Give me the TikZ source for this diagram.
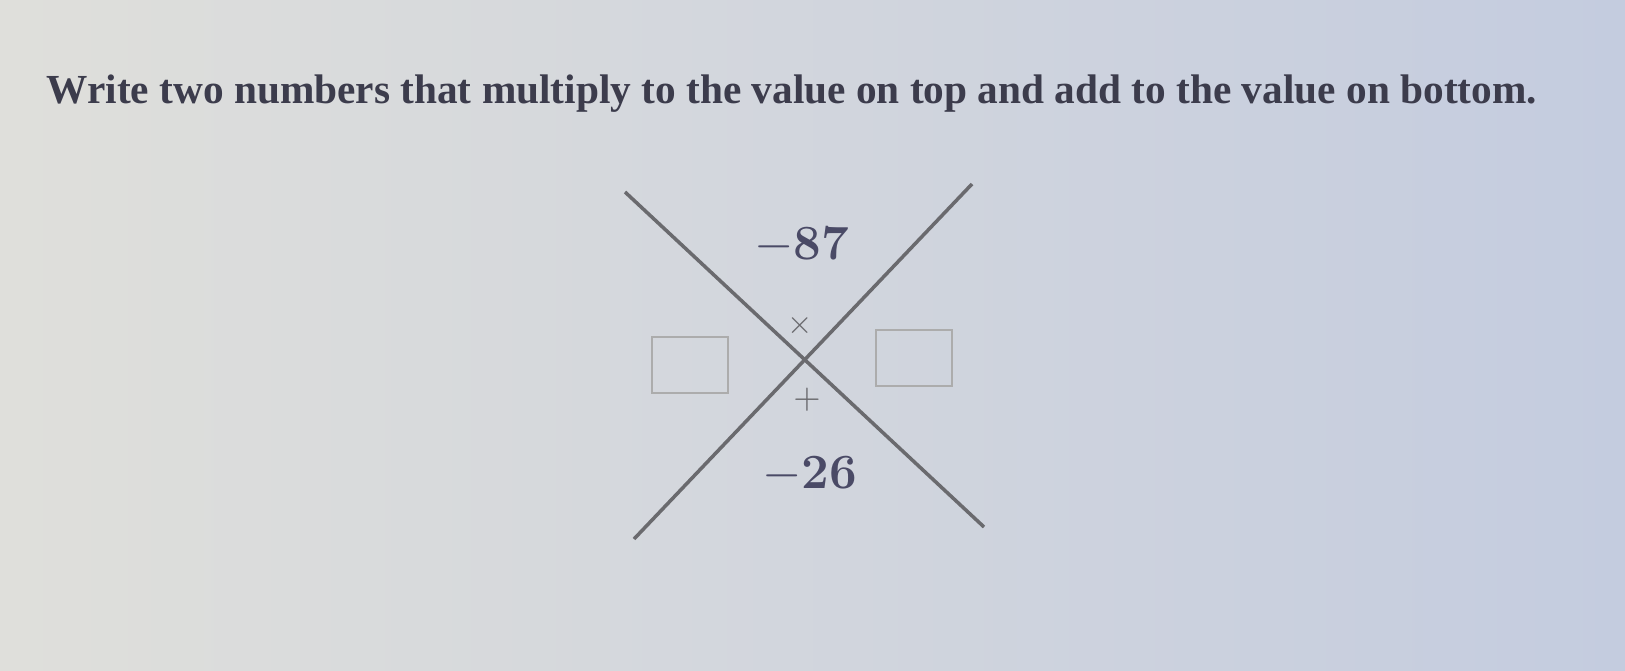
\documentclass[tikz,border=0pt]{standalone}
\usepackage{fontspec}
\newfontfamily\promptfont{Liberation Serif}
\definecolor{bgleft}{HTML}{DFDFDB}
\definecolor{bgright}{HTML}{C4CCDF}
\definecolor{inkdark}{HTML}{3C3C4C}
\definecolor{inknum}{HTML}{4A4A66}
\definecolor{linegray}{HTML}{6A6A6E}
\tikzset{
  prompt/.style={font=\promptfont\fontsize{11.75}{14}\selectfont\bfseries, text=inkdark, inner sep=0pt},
  value/.style={font=\fontsize{14}{16}\selectfont\bfseries, text=inknum, inner sep=0pt},
  sign/.style={text=linegray, inner sep=0pt},
  answerbox/.style={draw=gray!65, line width=0.6pt, minimum width=0.76cm, minimum height=0.56cm, inner sep=0pt},
  crossline/.style={draw=linegray, line width=1pt}
}
\begin{document}
\begin{tikzpicture}[x=0.01cm, y=-0.01cm]
    % Background
    \shade[left color=bgleft, right color=bgright] (0,0) rectangle (1625,670);
    \useasboundingbox (0,0) rectangle (1625,670);
    % Instruction
    \node[prompt, anchor=base west] (task) at (46,104)
      {Write two numbers that multiply to the value on top and add to the value on bottom.};
    % Cross
    \coordinate (tl) at (625,192);
    \coordinate (br) at (984,527);
    \coordinate (bl) at (634,539);
    \coordinate (tr) at (972,184);
    \draw[crossline] (tl) -- (br);
    \draw[crossline] (bl) -- (tr);
    % Values
    \node[value] (prod) at (802,245) {$-$87};
    \node[value] (sum) at (810,474) {$-$26};
    \node[sign, font=\small] (times) at (800,326) {$\times$};
    \node[sign, font=\normalsize] (plus) at (807,400) {$+$};
    % Boxes
    \node[answerbox] (lbox) at (690,365) {};
    \node[answerbox] (rbox) at (914,358) {};
\end{tikzpicture}
\end{document}
